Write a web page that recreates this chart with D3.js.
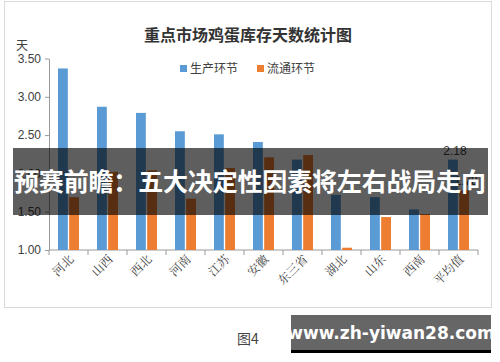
<!DOCTYPE html>
<html>
<head>
<meta charset="utf-8">
<script src="https://cdn.jsdelivr.net/npm/d3@7"></script>
<style>
  body { margin: 0; background: #fff; }
  svg { display: block; }
</style>
</head>
<body>
<div id="chart"></div>
<script>
// regions and the two series (days of egg inventory)
const regions = ["河北", "山西", "西北", "河南", "江苏", "安徽", "东三省", "湖北", "山东", "西南", "平均值"];
const series = ["生产环节", "流通环节"];
const production = [3.37, 2.87, 2.79, 2.55, 2.51, 2.41, 2.18, 1.72, 1.69, 1.53, 2.18];
const circulation = [1.69, 2.02, 2.04, 1.67, 2.07, 2.21, 2.24, 1.03, 1.43, 1.47, 1.78];
const yTicks = [1.0, 1.5, 2.0, 2.5, 3.0, 3.5];
const labelled = { "平均值": true };

const width = 500, height = 362;
const colors = { "生产环节": "#5B9BD5", "流通环节": "#ED7D31" };
const cjk = "'Noto Sans CJK SC', sans-serif";

const svg = d3.select("#chart").append("svg")
    .attr("width", width)
    .attr("height", height);

// chart frame
svg.append("rect")
    .attr("x", 4.5).attr("y", 1.5)
    .attr("width", 487).attr("height", 306)
    .attr("fill", "#fff")
    .attr("stroke", "#d9d9d9");

const x = d3.scaleBand().domain(regions).range([49, 478]);
const x1 = d3.scaleBand().domain(series).range([0, 21]).paddingInner(0.12);
const y = d3.scaleLinear().domain([1, 3.5]).range([250, 58.5]);

// title
svg.append("text")
    .attr("x", 248).attr("y", 41)
    .attr("text-anchor", "middle")
    .style("font-family", cjk)
    .style("font-size", "16px")
    .style("font-weight", "bold")
    .style("fill", "#333")
    .text("重点市场鸡蛋库存天数统计图");

// y axis
const yAxis = svg.append("g")
    .attr("transform", "translate(49,0)")
    .call(d3.axisLeft(y).tickValues(yTicks).tickFormat(d3.format(".2f")).tickSize(4).tickSizeOuter(0));
yAxis.select(".domain").attr("stroke", "#999");
yAxis.selectAll(".tick line").attr("stroke", "#999");
yAxis.selectAll(".tick text")
    .attr("x", -8)
    .style("font-family", "'Liberation Sans', sans-serif")
    .style("font-size", "12px")
    .style("fill", "#404040");

svg.append("text")
    .attr("x", 22).attr("y", 50)
    .attr("text-anchor", "middle")
    .style("font-family", cjk)
    .style("font-size", "12px")
    .style("fill", "#404040")
    .text("天");

// x axis: ticks between categories
const xAxis = svg.append("g").attr("transform", "translate(0,250)");
xAxis.append("line")
    .attr("x1", 49).attr("x2", 478)
    .attr("stroke", "#999");
xAxis.selectAll("line.tick")
    .data(regions.concat([null]))
    .enter().append("line")
    .attr("class", "tick")
    .attr("x1", (d, i) => 49 + i * x.bandwidth())
    .attr("x2", (d, i) => 49 + i * x.bandwidth())
    .attr("y1", 0).attr("y2", 5)
    .attr("stroke", "#999");
xAxis.selectAll("text")
    .data(regions)
    .enter().append("text")
    .attr("transform", d => `translate(${x(d) + x.bandwidth() / 2 + 6},${10}) rotate(-45)`)
    .attr("text-anchor", "end")
    .style("font-family", "'Noto Serif CJK SC', 'AR PL UMing CN', " + cjk)
    .style("font-size", "12px")
    .style("fill", "#404040")
    .text(d => d);

// bars
const rows = regions.map((r, i) => ({ region: r, values: [production[i], circulation[i]] }));
const groups = svg.selectAll("g.group")
    .data(rows)
    .enter().append("g")
    .attr("class", "group")
    .attr("transform", d => `translate(${x(d.region) + (x.bandwidth() - 21) / 2},0)`);

groups.selectAll("rect")
    .data(d => series.map((s, j) => ({ series: s, value: d.values[j], region: d.region })))
    .enter().append("rect")
    .attr("x", d => x1(d.series))
    .attr("y", d => y(d.value))
    .attr("width", x1.bandwidth())
    .attr("height", d => y(1) - y(d.value))
    .attr("fill", d => colors[d.series]);

groups.selectAll("text")
    .data(d => labelled[d.region] ? series.map((s, j) => ({ series: s, value: d.values[j] })) : [])
    .enter().append("text")
    .attr("x", d => x1(d.series) + x1.bandwidth() / 2 + 2)
    .attr("y", d => y(d.value) - 5)
    .attr("text-anchor", "middle")
    .style("font-family", "'Liberation Sans', sans-serif")
    .style("font-size", "12px")
    .style("fill", "#404040")
    .text(d => d3.format(".2f")(d.value));

// legend
const legend = svg.append("g");
const legendX = [180, 257];
series.forEach((s, i) => {
    legend.append("rect")
        .attr("x", legendX[i]).attr("y", 65)
        .attr("width", 7).attr("height", 7)
        .attr("fill", colors[s]);
    legend.append("text")
        .attr("x", legendX[i] + 10).attr("y", 73)
        .style("font-family", cjk)
        .style("font-size", "12px")
        .style("fill", "#404040")
        .text(s);
});

// headline banner over the chart
svg.append("rect")
    .attr("x", 13).attr("y", 148)
    .attr("width", 475).attr("height", 67)
    .attr("fill", "#000")
    .attr("opacity", 0.63);
svg.append("text")
    .attr("x", 250).attr("y", 191)
    .attr("text-anchor", "middle")
    .attr("textLength", 472)
    .style("font-family", cjk)
    .style("font-size", "25px")
    .style("font-weight", "bold")
    .style("fill", "#fff")
    .text("预赛前瞻：五大决定性因素将左右战局走向");

// caption and site mark
svg.append("text")
    .attr("x", 248).attr("y", 344)
    .attr("text-anchor", "middle")
    .style("font-family", cjk)
    .style("font-size", "14px")
    .style("fill", "#444")
    .text("图4");

svg.append("rect")
    .attr("x", 291).attr("y", 315)
    .attr("width", 200).attr("height", 35)
    .attr("fill", "#666");
svg.append("rect")
    .attr("x", 291).attr("y", 350)
    .attr("width", 200).attr("height", 3)
    .attr("fill", "#000");
svg.append("text")
    .attr("x", 391).attr("y", 339)
    .attr("text-anchor", "middle")
    .style("font-family", "'DejaVu Sans', sans-serif")
    .style("font-size", "17px")
    .style("font-weight", "bold")
    .style("fill", "#fff")
    .text("www.zh-yiwan28.com");
</script>
</body>
</html>
